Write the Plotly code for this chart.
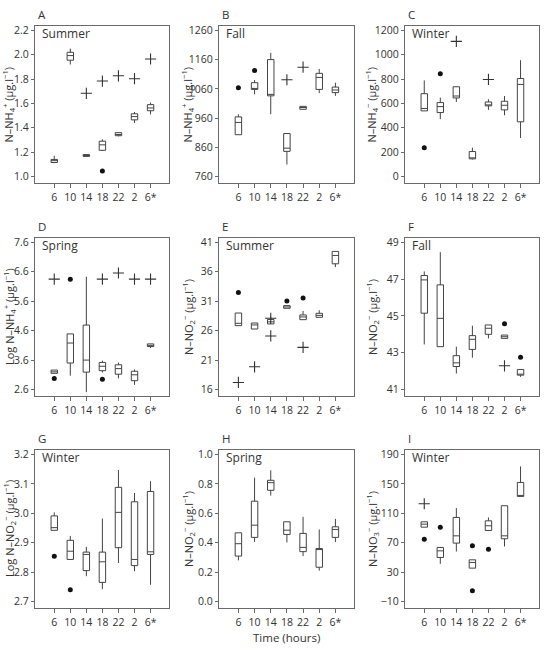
import plotly.graph_objects as go

cats = ["6", "10", "14", "18", "22", "2", "6*"]

# ---- Panel A: Summer N-NH4+
A_low = [1.11, 1.92, 1.16, 1.21, 1.33, 1.44, 1.51]
A_q1 = [1.115, 1.955, 1.165, 1.215, 1.335, 1.465, 1.54]
A_med = [1.13, 1.993, 1.172, 1.26, 1.345, 1.492, 1.563]
A_q3 = [1.14, 2.02, 1.18, 1.29, 1.36, 1.515, 1.59]
A_up = [1.17, 2.05, 1.18, 1.305, 1.36, 1.53, 1.607]
A_dot_x = ["18"]
A_dot_y = [1.046]
A_plus_x = ["14", "18", "22", "2", "6*"]
A_plus_y = [1.683, 1.784, 1.827, 1.803, 1.965]

# ---- Panel B: Fall N-NH4+
B_low = [903, 1041, 973, 801, 990, 1045, 1036]
B_q1 = [903, 1058, 1036, 846, 990, 1058, 1047]
B_med = [945, 1060, 1041, 857, 996, 1099, 1056]
B_q3 = [964, 1081, 1160, 907, 1000, 1113, 1066]
B_up = [973, 1090, 1183, 907, 1000, 1128, 1081]
B_dot_x = ["6", "10"]
B_dot_y = [1064, 1123]
B_plus_x = ["18", "22"]
B_plus_y = [1091, 1134]

# ---- Panel C: Winter N-NH4
C_low = [539, 471, 612, 140, 547, 503, 316]
C_q1 = [539, 525, 645, 145, 580, 547, 449]
C_med = [558, 574, 661, 150, 585, 585, 756]
C_q3 = [680, 607, 737, 205, 612, 618, 805]
C_up = [789, 648, 737, 237, 634, 661, 955]
C_dot_x = ["6", "10"]
C_dot_y = [237, 844]
C_plus_x = ["14", "22"]
C_plus_y = [1110, 797]

# ---- Panel D: Spring Log N-NH4+
D_low = [3.15, 3.07, 2.51, 3.18, 2.98, 2.76, 4.01]
D_q1 = [3.15, 3.5, 3.19, 3.24, 3.12, 2.9, 4.06]
D_med = [3.2, 4.18, 3.6, 3.39, 3.31, 3.1, 4.1]
D_q3 = [3.26, 4.49, 4.79, 3.52, 3.44, 3.22, 4.15]
D_up = [3.26, 4.49, 6.43, 3.58, 3.52, 3.28, 4.15]
D_dot_x = ["6", "10", "18"]
D_dot_y = [2.976, 6.35, 2.95]
D_plus_x = ["6", "18", "22", "2", "6*"]
D_plus_y = [6.35, 6.35, 6.56, 6.35, 6.35]

# ---- Panel E: Summer N-NO2-
E_low = [26.85, 26.28, 27.14, 29.8, 27.87, 28.27, 36.8]
E_q1 = [26.85, 26.28, 27.14, 29.8, 27.87, 28.27, 37.36]
E_med = [27.25, 26.97, 27.5, 30.03, 28.33, 28.6, 38.78]
E_q3 = [29.0, 27.3, 27.9, 30.26, 28.67, 28.95, 39.47]
E_up = [29.0, 27.3, 28.4, 30.26, 29.35, 29.47, 39.47]
E_dot_x = ["6", "18", "22"]
E_dot_y = [32.5, 31.06, 31.57]
E_plus_x = ["6", "10", "14", "14", "22"]
E_plus_y = [17.2, 19.86, 28.1, 25.1, 23.16]

# ---- Panel F: Fall N-NO2-
F_low = [43.45, 43.33, 41.87, 42.73, 43.78, 43.78, 41.69]
F_q1 = [45.15, 43.33, 42.25, 43.18, 44.0, 43.78, 41.78]
F_med = [46.96, 44.87, 42.45, 43.73, 44.33, 43.87, 41.83]
F_q3 = [47.2, 46.69, 42.84, 43.93, 44.51, 43.96, 42.09]
F_up = [47.42, 48.47, 43.33, 44.47, 44.51, 43.96, 42.09]
F_dot_x = ["2", "6*"]
F_dot_y = [44.58, 42.75]
F_plus_x = ["2"]
F_plus_y = [42.29]

# ---- Panel G: Winter Log N-NO2-
G_low = [2.942, 2.843, 2.786, 2.742, 2.831, 2.803, 2.757]
G_q1 = [2.942, 2.843, 2.805, 2.765, 2.883, 2.822, 2.86]
G_med = [2.951, 2.871, 2.86, 2.835, 3.003, 2.843, 2.869]
G_q3 = [2.991, 2.908, 2.868, 2.868, 3.088, 3.039, 3.074]
G_up = [3.003, 2.923, 2.886, 2.982, 3.147, 3.069, 3.109]
G_dot_x = ["6", "10"]
G_dot_y = [2.854, 2.74]
G_plus_x = []
G_plus_y = []

# ---- Panel H: Spring N-NO2-
H_low = [0.28, 0.406, 0.72, 0.402, 0.309, 0.21, 0.404]
H_q1 = [0.309, 0.436, 0.756, 0.456, 0.339, 0.233, 0.436]
H_med = [0.393, 0.519, 0.808, 0.485, 0.368, 0.36, 0.49]
H_q3 = [0.467, 0.682, 0.824, 0.542, 0.463, 0.36, 0.508]
H_up = [0.467, 0.842, 0.892, 0.542, 0.576, 0.49, 0.562]
H_dot_x = []
H_dot_y = []
H_plus_x = []
H_plus_y = []

# ---- Panel I: Winter N-NO3-
I_low = [91.1, 41.2, 58.0, 35.4, 86.6, 64.8, 132.9]
I_q1 = [91.1, 49.9, 69.4, 35.4, 86.6, 75.3, 132.9]
I_med = [95.2, 58.9, 79.3, 43.1, 93.0, 79.3, 133.8]
I_q3 = [98.4, 63.5, 104.3, 46.7, 99.7, 120.2, 151.9]
I_up = [98.4, 63.5, 117.0, 46.7, 104.3, 120.2, 173.7]
I_dot_x = ["6", "10", "18", "18", "22"]
I_dot_y = [74.8, 91.1, 65.7, 4.5, 61.2]
I_plus_x = ["6"]
I_plus_y = [122.9]

letters = ["A", "B", "C", "D", "E", "F", "G", "H", "I"]
seasons = ["Summer", "Fall", "Winter", "Spring", "Summer", "Fall", "Winter", "Spring", "Winter"]
ytitles = [
    "N–NH<sub>4</sub><sup>+</sup> (μg.l<sup>−1</sup>)",
    "N–NH<sub>4</sub><sup>+</sup> (μg.l<sup>−1</sup>)",
    "N–NH<sub>4</sub><sup>−</sup> (μg.l<sup>−1</sup>)",
    "Log N–NH<sub>4</sub><sup>+</sup> (μg.l<sup>−1</sup>)",
    "N–NO<sub>2</sub><sup>−</sup> (μg.l<sup>−1</sup>)",
    "N–NO<sub>2</sub><sup>−</sup> (μg.l<sup>−1</sup>)",
    "Log N–NO<sub>2</sub><sup>−</sup> (μg.l<sup>−1</sup>)",
    "N–NO<sub>2</sub><sup>−</sup> (μg.l<sup>−1</sup>)",
    "N–NO<sub>3</sub><sup>−</sup> (μg.l<sup>−1</sup>)",
]
yticks = [
    [1.0, 1.2, 1.4, 1.6, 1.8, 2.0, 2.2],
    [760, 860, 960, 1060, 1160, 1260],
    [0, 200, 400, 600, 800, 1000, 1200],
    [2.6, 3.6, 4.6, 5.6, 6.6, 7.6],
    [16, 21, 26, 31, 36, 41],
    [41, 43, 45, 47, 49],
    [2.7, 2.8, 2.9, 3.0, 3.1, 3.2],
    [0.0, 0.2, 0.4, 0.6, 0.8, 1.0],
    [-10, 30, 70, 110, 150, 190],
]
ytickfmt = [".1f", "d", "d", ".1f", "d", "d", ".1f", ".1f", "d"]

panels = [
    (A_low, A_q1, A_med, A_q3, A_up, A_dot_x, A_dot_y, A_plus_x, A_plus_y),
    (B_low, B_q1, B_med, B_q3, B_up, B_dot_x, B_dot_y, B_plus_x, B_plus_y),
    (C_low, C_q1, C_med, C_q3, C_up, C_dot_x, C_dot_y, C_plus_x, C_plus_y),
    (D_low, D_q1, D_med, D_q3, D_up, D_dot_x, D_dot_y, D_plus_x, D_plus_y),
    (E_low, E_q1, E_med, E_q3, E_up, E_dot_x, E_dot_y, E_plus_x, E_plus_y),
    (F_low, F_q1, F_med, F_q3, F_up, F_dot_x, F_dot_y, F_plus_x, F_plus_y),
    (G_low, G_q1, G_med, G_q3, G_up, G_dot_x, G_dot_y, G_plus_x, G_plus_y),
    (H_low, H_q1, H_med, H_q3, H_up, H_dot_x, H_dot_y, H_plus_x, H_plus_y),
    (I_low, I_q1, I_med, I_q3, I_up, I_dot_x, I_dot_y, I_plus_x, I_plus_y),
]

W, H = 544, 650
col_px = [(35, 169), (219, 354), (405, 539)]
row_px = [(23, 181), (236, 395), (449, 608)]
title_x_px = [9, 188, 372]

FONT = "Open Sans"
LINE = "#6a6a6a"
INK = "#333333"

fig = go.Figure()
annotations = []
layout = {}

for k, p in enumerate(panels):
    low, q1, med, q3, up, dx, dy, px_, py_ = p
    r, c = divmod(k, 3)
    n = k + 1
    xa = "x" if n == 1 else f"x{n}"
    ya = "y" if n == 1 else f"y{n}"
    fig.add_trace(go.Box(
        x=cats, q1=q1, median=med, q3=q3, lowerfence=low, upperfence=up,
        xaxis=xa, yaxis=ya, width=0.4, whiskerwidth=0,
        fillcolor="white", line=dict(color="#444444", width=1),
        boxpoints=False, showlegend=False, hoverinfo="skip",
    ))
    if dx:
        fig.add_trace(go.Scatter(
            x=dx, y=dy, xaxis=xa, yaxis=ya, mode="markers",
            marker=dict(symbol="circle", size=5, color="#111111"),
            showlegend=False, hoverinfo="skip"))
    if px_:
        fig.add_trace(go.Scatter(
            x=px_, y=py_, xaxis=xa, yaxis=ya, mode="markers",
            marker=dict(symbol="cross-thin", size=8,
                        line=dict(color="#333333", width=1.1)),
            showlegend=False, hoverinfo="skip"))

    x0, x1 = col_px[c]
    y0, y1 = row_px[r]
    tv = yticks[k]
    span = tv[-1] - tv[0]
    pxspan = (y1 - y0) - 6.7 - 4.5
    per = span / pxspan
    yr = [tv[0] - 6.7 * per, tv[-1] + 4.5 * per]

    key = "" if n == 1 else str(n)
    layout["xaxis" + key] = dict(
        domain=[x0 / W, x1 / W], anchor=ya, type="category",
        categoryorder="array", categoryarray=cats,
        range=[-1.2, 7.15], showline=True, mirror=True, linecolor=LINE,
        linewidth=1.2, ticks="outside", ticklen=4, tickcolor=LINE,
        tickfont=dict(family=FONT, size=10.5, color=INK),
        showgrid=False, zeroline=False, fixedrange=True,
    )
    layout["yaxis" + key] = dict(
        domain=[1 - y1 / H, 1 - y0 / H], anchor=xa,
        range=yr, tickvals=tv, tickformat=ytickfmt[k],
        showline=True, mirror=True, linecolor=LINE, linewidth=1.2,
        ticks="outside", ticklen=3, tickcolor=LINE,
        tickfont=dict(family=FONT, size=10.5, color=INK),
        showgrid=False, zeroline=False, fixedrange=True,
    )
    # panel letter
    annotations.append(dict(
        text=letters[k], xref="paper", yref="paper",
        x=(x0 + 1) / W, y=1 - (y0 - 2) / H, xanchor="left", yanchor="bottom",
        showarrow=False, font=dict(family=FONT, size=11.5, color=INK)))
    # season label
    annotations.append(dict(
        text=seasons[k], xref="paper", yref="paper",
        x=(x0 + 5) / W, y=1 - (y0 - 3) / H, xanchor="left", yanchor="top",
        showarrow=False, font=dict(family=FONT, size=12, color=INK)))
    # y title
    annotations.append(dict(
        text=ytitles[k], xref="paper", yref="paper",
        x=title_x_px[c] / W, y=1 - ((y0 + y1) / 2) / H,
        xanchor="center", yanchor="middle", textangle=-90,
        showarrow=False, font=dict(family=FONT, size=11, color=INK)))

annotations.append(dict(
    text="Time (hours)", xref="paper", yref="paper",
    x=((219 + 354) / 2) / W, y=1 - 637 / H, xanchor="center", yanchor="middle",
    showarrow=False, font=dict(family=FONT, size=11.5, color=INK)))

fig.update_layout(
    width=W, height=H, margin=dict(l=0, r=0, t=0, b=0),
    paper_bgcolor="white", plot_bgcolor="white",
    annotations=annotations, showlegend=False, **layout,
)

fig.write_html("out.html")
